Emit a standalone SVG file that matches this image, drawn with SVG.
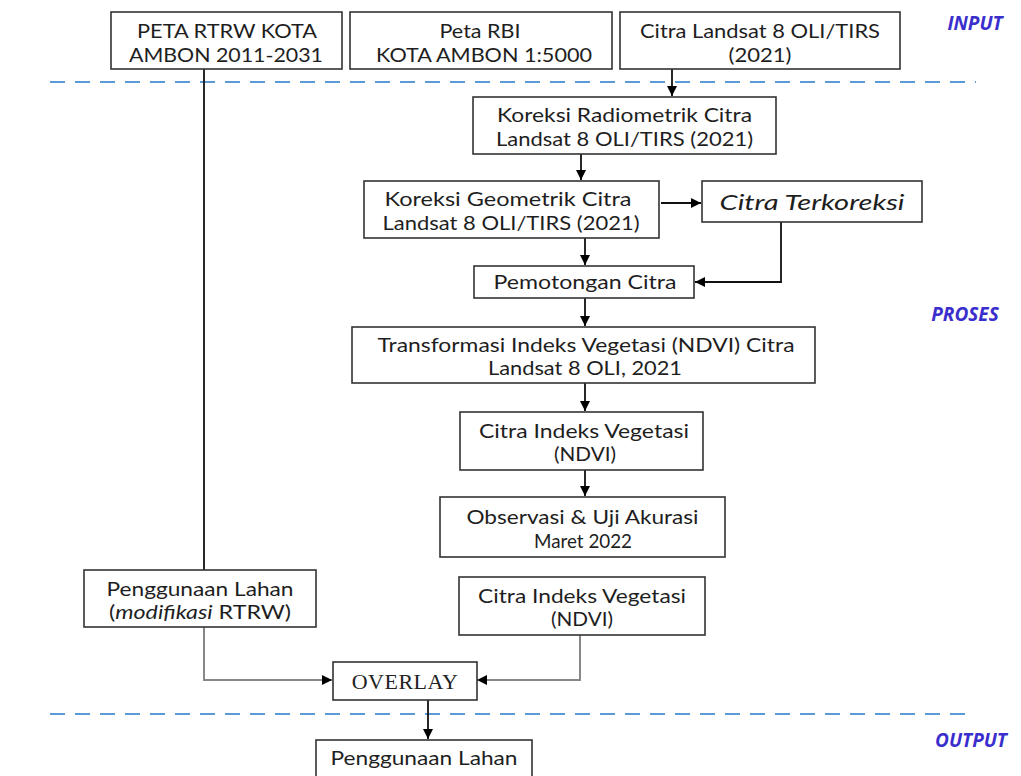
<svg xmlns="http://www.w3.org/2000/svg" width="1021" height="776" viewBox="0 0 1021 776">
<defs>
<marker id="ah" viewBox="0 0 10 10" refX="10" refY="5" markerWidth="10" markerHeight="10" markerUnits="userSpaceOnUse" orient="auto">
<path d="M0,0 L10,5 L0,10 z" fill="#000"/>
</marker>
<style>
.box{fill:#fff;stroke:#333;stroke-width:1.6}
.t{font-family:Lato,"Open Sans","Liberation Sans",sans-serif;font-size:19px;fill:#1e1e1e;text-anchor:middle}
.it{font-style:italic}
.lbl{font-family:"Open Sans","Liberation Sans",sans-serif;font-size:19px;font-weight:bold;font-style:italic;fill:#3a2fcc;text-anchor:middle}
.dash{stroke:#5b9bd5;stroke-width:2;stroke-dasharray:15,10;fill:none}
.c{stroke:#111;stroke-width:1.8;fill:none}
.g{stroke:#888;stroke-width:2;fill:none}
</style>
</defs>
<rect width="1021" height="776" fill="#fff"/>
<line class="dash" x1="50" y1="82" x2="976" y2="82"/>
<line class="dash" x1="50" y1="714" x2="968" y2="714"/>
<text class="lbl" x="975" y="30">INPUT</text>
<text class="lbl" x="965" y="321">PROSES</text>
<text class="lbl" x="971" y="747">OUTPUT</text>
<g id="connectors">
<line class="c" x1="672" y1="69" x2="672" y2="96" marker-end="url(#ah)"/>
<line class="c" x1="581" y1="154" x2="581" y2="180" marker-end="url(#ah)"/>
<line class="c" x1="661" y1="203" x2="701" y2="203" marker-end="url(#ah)"/>
<polyline class="c" points="781,222 781,282 695,282" marker-end="url(#ah)"/>
<line class="c" x1="585" y1="238" x2="585" y2="265" marker-end="url(#ah)"/>
<line class="c" x1="585" y1="298" x2="585" y2="326" marker-end="url(#ah)"/>
<line class="c" x1="585" y1="383" x2="585" y2="411" marker-end="url(#ah)"/>
<line class="c" x1="585" y1="470" x2="585" y2="496" marker-end="url(#ah)"/>
<line class="c" x1="204" y1="69" x2="204" y2="570"/>
<polyline class="g" points="204,627 204,680 332,680" marker-end="url(#ah)"/>
<polyline class="g" points="580,635 580,680 477,680" marker-end="url(#ah)"/>
<line class="c" x1="428" y1="700" x2="428" y2="739" marker-end="url(#ah)"/>
</g>
<g id="n1"><rect class="box" x="111" y="12" width="231" height="57"/><text class="t" x="227" y="38" textLength="180" lengthAdjust="spacingAndGlyphs">PETA RTRW KOTA</text><text class="t" x="226" y="62" textLength="194" lengthAdjust="spacingAndGlyphs">AMBON 2011-2031</text></g>
<g id="n2"><rect class="box" x="350" y="12" width="262" height="57"/><text class="t" x="480" y="38" textLength="81" lengthAdjust="spacingAndGlyphs">Peta RBI</text><text class="t" x="484" y="62" textLength="216" lengthAdjust="spacingAndGlyphs">KOTA AMBON 1:5000</text></g>
<g id="n3"><rect class="box" x="620" y="12" width="280" height="57"/><text class="t" x="760" y="38" textLength="240" lengthAdjust="spacingAndGlyphs">Citra Landsat 8 OLI/TIRS</text><text class="t" x="760" y="62" textLength="63" lengthAdjust="spacingAndGlyphs">(2021)</text></g>
<g id="n4"><rect class="box" x="473" y="97" width="303" height="57"/><text class="t" x="624.5" y="122" textLength="255" lengthAdjust="spacingAndGlyphs">Koreksi Radiometrik Citra</text><text class="t" x="624.5" y="146" textLength="257" lengthAdjust="spacingAndGlyphs">Landsat 8 OLI/TIRS (2021)</text></g>
<g id="n5"><rect class="box" x="364" y="181" width="295" height="57"/><text class="t" x="508" y="206" textLength="247" lengthAdjust="spacingAndGlyphs">Koreksi Geometrik Citra</text><text class="t" x="511" y="230" textLength="257" lengthAdjust="spacingAndGlyphs">Landsat 8 OLI/TIRS (2021)</text></g>
<g id="n6"><rect class="box" x="702" y="181" width="220" height="41"/><text class="t it" x="812" y="210" style="font-size:22px" textLength="185" lengthAdjust="spacingAndGlyphs">Citra Terkoreksi</text></g>
<g id="n7"><rect class="box" x="474" y="266" width="220" height="32"/><text class="t" x="585" y="289" textLength="183" lengthAdjust="spacingAndGlyphs">Pemotongan Citra</text></g>
<g id="n8"><rect class="box" x="352" y="327" width="463" height="56"/><text class="t" x="586" y="352" textLength="417" lengthAdjust="spacingAndGlyphs">Transformasi Indeks Vegetasi (NDVI) Citra</text><text class="t" x="585" y="375" textLength="194" lengthAdjust="spacingAndGlyphs">Landsat 8 OLI, 2021</text></g>
<g id="n9"><rect class="box" x="460" y="412" width="243" height="58"/><text class="t" x="584" y="438" textLength="210" lengthAdjust="spacingAndGlyphs">Citra Indeks Vegetasi</text><text class="t" x="585" y="461" textLength="62" lengthAdjust="spacingAndGlyphs">(NDVI)</text></g>
<g id="n10"><rect class="box" x="440" y="497" width="285" height="60"/><text class="t" x="582.5" y="524" textLength="232" lengthAdjust="spacingAndGlyphs">Observasi &amp; Uji Akurasi</text><text class="t" x="583" y="548" textLength="98" lengthAdjust="spacingAndGlyphs">Maret 2022</text></g>
<g id="n11"><rect class="box" x="84" y="570" width="232" height="57"/><text class="t" x="200" y="596" textLength="187" lengthAdjust="spacingAndGlyphs">Penggunaan Lahan</text><text class="t" x="200" y="619" textLength="182" lengthAdjust="spacingAndGlyphs">(<tspan class="it">modifikasi</tspan> RTRW)</text></g>
<g id="n12"><rect class="box" x="459" y="577" width="246" height="58"/><text class="t" x="582" y="603" textLength="208" lengthAdjust="spacingAndGlyphs">Citra Indeks Vegetasi</text><text class="t" x="582" y="626" textLength="62" lengthAdjust="spacingAndGlyphs">(NDVI)</text></g>
<g id="n13"><rect class="box" x="333" y="662" width="144" height="38"/><text x="405" y="689" style="font-family:'Liberation Serif',serif;font-size:22px;letter-spacing:0.5px;fill:#222;text-anchor:middle">OVERLAY</text></g>
<g id="n14"><rect class="box" x="316" y="740" width="216" height="50"/><text class="t" x="424" y="765" textLength="187" lengthAdjust="spacingAndGlyphs">Penggunaan Lahan</text></g>
</svg>
